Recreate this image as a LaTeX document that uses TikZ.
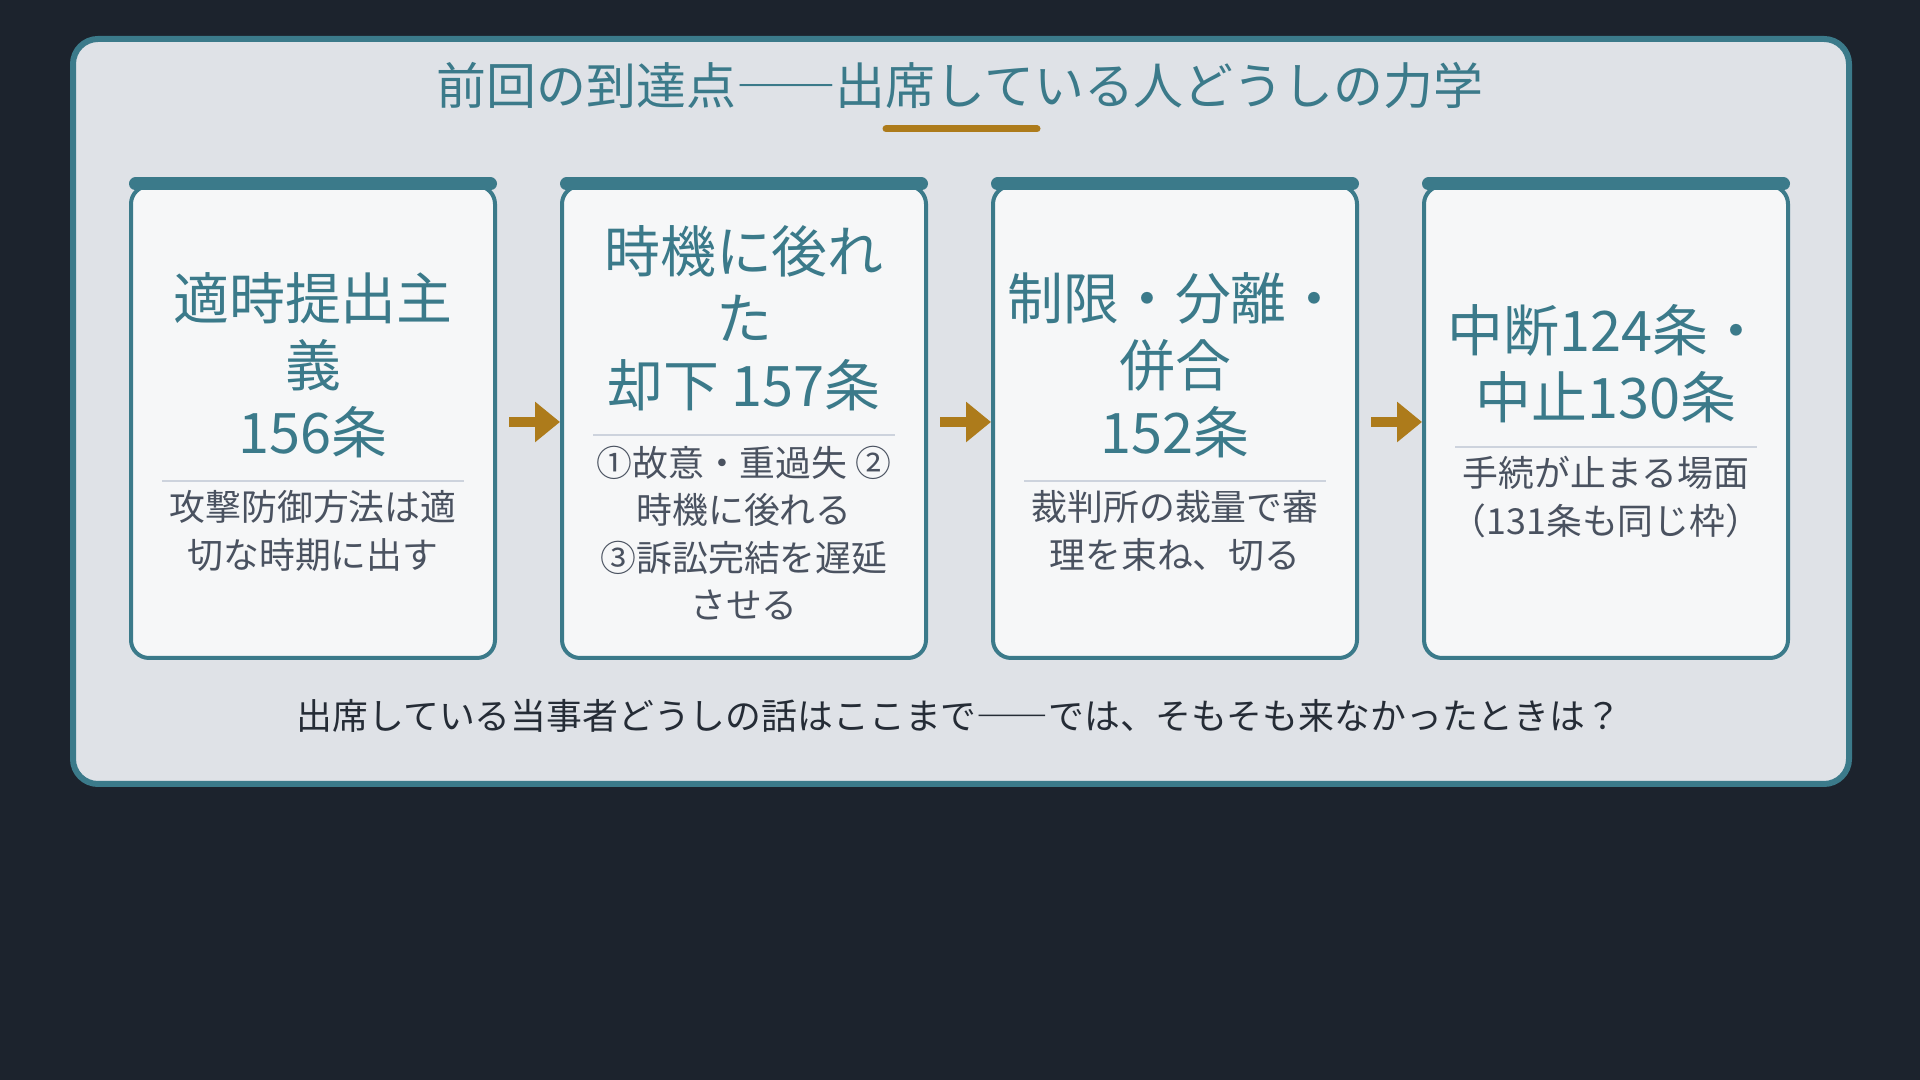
\documentclass[tikz,border=0pt]{standalone}
\usepackage{fontspec}
\setmainfont{Noto Sans CJK JP}
\usetikzlibrary{arrows.meta,positioning}
\definecolor{nightbg}{HTML}{1C232D}
\definecolor{panelgrey}{HTML}{DFE2E7}
\definecolor{courtteal}{HTML}{3B7A8A}
\definecolor{cardwhite}{HTML}{F6F7F8}
\definecolor{arrowgold}{HTML}{AD7B1B}
\definecolor{rulegrey}{HTML}{CDD3DD}
\definecolor{notegrey}{HTML}{4A5260}
\definecolor{bodyink}{HTML}{252C36}
\newcommand{\wdash}{{\addfontfeatures{RawFeature=+fwid}——}}

\begin{document}
\begin{tikzpicture}[every node/.style={align=center, inner sep=0pt},
  panel/.style={draw=courtteal, fill=panelgrey, line width=0.6mm, rounded corners=2.5mm},
  card/.style={draw=courtteal, fill=cardwhite, line width=0.4mm, rounded corners=1.8mm,
    minimum width=3.64cm, minimum height=4.72cm},
  cardbar/.style={courtteal, line width=1.3mm, line cap=round},
  headtext/.style={text=courtteal, font=\fontsize{15.9}{19.1}\selectfont},
  subtext/.style={text=notegrey, font=\fontsize{10.2}{13.5}\selectfont},
  seprule/.style={rulegrey, line width=0.25mm},
  flowarrow/.style={-{Triangle[length=2.5mm,width=3.9mm]}, arrowgold, line width=1mm, shorten <=1.2mm}]
% Background and panel
\fill[nightbg] (0,0) rectangle (19.2,10.8);
\useasboundingbox (0,0) rectangle (19.2,10.8);
\draw[panel] (0.73,2.96) rectangle (18.49,10.41);

% Title
\node[text=courtteal, font=\fontsize{14.2}{17}\selectfont] (title) at (9.60,9.94) {前回の到達点\wdash 出席している人どうしの力学};
\draw[arrowgold, line width=0.7mm, line cap=round] (8.86,9.51) -- (10.37,9.51);

% Card 1
\node[card] (c1) at (3.13,6.58) {};
\draw[cardbar] ([xshift=0.65mm]c1.north west) -- ([xshift=-0.65mm]c1.north east);
\node[headtext] (h1) at (3.13,7.15) {適時提出主\\義\\156条};
\draw[seprule] ([xshift=3.3mm]c1.west |- 0,5.99) -- ([xshift=-3.3mm]c1.east |- 0,5.99);
\node[subtext] (s1) at (3.13,5.49) {攻撃防御方法は適\\切な時期に出す};

% Card 2
\node[card] (c2) at (7.44,6.58) {};
\draw[cardbar] ([xshift=0.65mm]c2.north west) -- ([xshift=-0.65mm]c2.north east);
\node[headtext] (h2) at (7.44,7.62) {時機に後れ\\た\\却下 157条};
\draw[seprule] ([xshift=3.3mm]c2.west |- 0,6.45) -- ([xshift=-3.3mm]c2.east |- 0,6.45);
\node[subtext] (s2) at (7.44,5.47) {①故意・重過失 ②\\時機に後れる\\③訴訟完結を遅延\\させる};

% Card 3
\node[card] (c3) at (11.75,6.58) {};
\draw[cardbar] ([xshift=0.65mm]c3.north west) -- ([xshift=-0.65mm]c3.north east);
\node[headtext] (h3) at (11.75,7.15) {制限・分離・\\併合\\152条};
\draw[seprule] ([xshift=3.3mm]c3.west |- 0,5.99) -- ([xshift=-3.3mm]c3.east |- 0,5.99);
\node[subtext] (s3) at (11.75,5.49) {裁判所の裁量で審\\理を束ね、切る};

% Card 4
\node[card] (c4) at (16.06,6.58) {};
\draw[cardbar] ([xshift=0.65mm]c4.north west) -- ([xshift=-0.65mm]c4.north east);
\node[headtext] (h4) at (16.06,7.16) {中断124条・\\中止130条};
\draw[seprule] ([xshift=3.3mm]c4.west |- 0,6.33) -- ([xshift=-3.3mm]c4.east |- 0,6.33);
\node[subtext] (s4) at (16.06,5.83) {手続が止まる場面\\（131条も同じ枠）};

% Arrows
\draw[flowarrow] (c1) -- (c2);
\draw[flowarrow] (c2) -- (c3);
\draw[flowarrow] (c3) -- (c4);

% Closing line
\node[text=bodyink, font=\fontsize{10.2}{12}\selectfont] (closing) at (9.59,3.64) {出席している当事者どうしの話はここまで\wdash では、そもそも来なかったときは？};
\end{tikzpicture}
\end{document}
